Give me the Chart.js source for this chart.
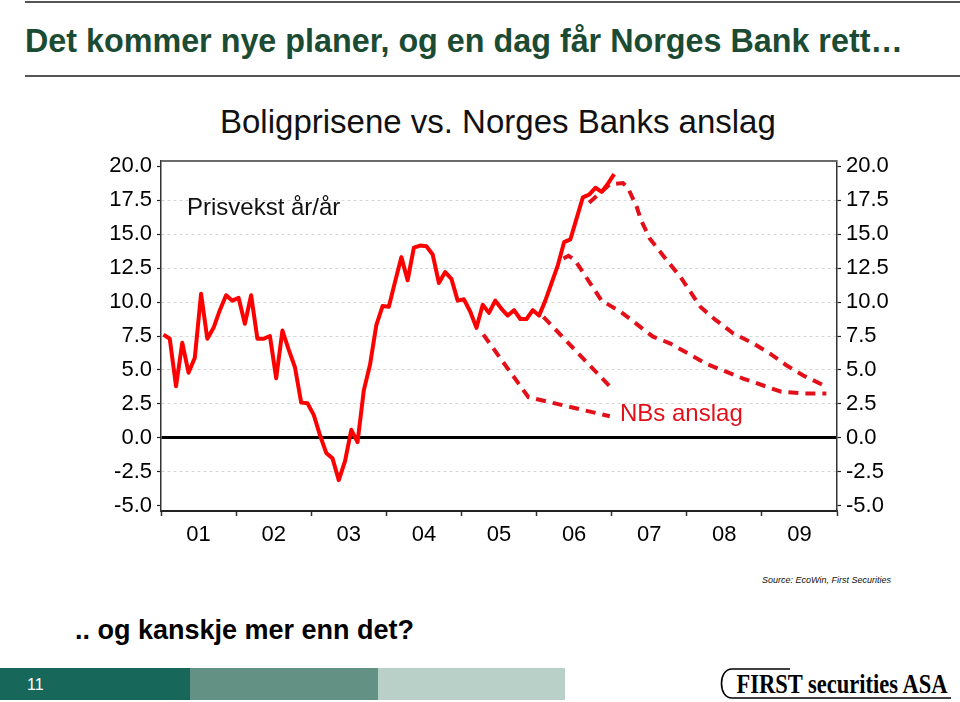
<!DOCTYPE html>
<html>
<head>
<meta charset="utf-8">
<script src="https://cdn.jsdelivr.net/npm/chart.js@4.4.1/dist/chart.umd.min.js"></script>
<style>
  body { margin: 0; width: 960px; height: 702px; position: relative; background: #fff; overflow: hidden;
         font-family: "Liberation Sans", Arial, sans-serif; }
  .abs { position: absolute; white-space: nowrap; line-height: 1; }
  .rule { position: absolute; left: 25px; right: 0; height: 2px; background: #555; }
  #headline { left: 25px; top: 23px; font-size: 34px; font-weight: bold; color: #1b4b33;
              transform: scaleX(0.95); transform-origin: left top; }
  #chartTitle { left: 220px; top: 105px; font-size: 33px; color: #111; }
  #note { left: 187px; top: 195px; font-size: 24px; color: #111; }
  #nbLabel { left: 620px; top: 401px; font-size: 24px; color: #e3101a; }
  #source { left: 762px; top: 576px; font-size: 9px; font-style: italic; color: #111; }
  #teaser { left: 75px; top: 617px; font-size: 27px; font-weight: bold; color: #000; }
  #prisChart { position: absolute; left: 0; top: 100px; }
  .bar { position: absolute; top: 668px; height: 32px; }
  #pageNo { left: 27px; top: 677px; font-size: 16px; color: #fff; }
  #logo { position: absolute; left: 700px; top: 660px; }
</style>
</head>
<body>
<div class="rule" style="top:1px"></div>
<div class="rule" style="top:75px"></div>
<div class="abs" id="headline">Det kommer nye planer, og en dag får Norges Bank rett…</div>
<div class="abs" id="chartTitle">Boligprisene vs. Norges Banks anslag</div>
<canvas id="prisChart" width="960" height="470"></canvas>
<div class="abs" id="note">Prisvekst år/år</div>
<div class="abs" id="nbLabel">NBs anslag</div>
<div class="abs" id="source">Source: EcoWin, First Securities</div>
<div class="abs" id="teaser">.. og kanskje mer enn det?</div>
<div class="bar" style="left:0;width:190px;background:#17675a"></div>
<div class="bar" style="left:190px;width:188px;background:#639184"></div>
<div class="bar" style="left:378px;width:187px;background:#b9d0c8"></div>
<div class="abs" id="pageNo">11</div>
<svg id="logo" width="260" height="42" viewBox="0 0 260 42">
  <path d="M90,9 L32,9 C25,9 21.5,16 21.5,23.5 C21.5,31 25,38 32,38 L251,38" fill="none" stroke="#000" stroke-width="1.6"/>
  <text x="36.5" y="33" font-family="'Liberation Serif', 'Times New Roman', serif" font-weight="bold"
        font-size="27" textLength="211" lengthAdjust="spacingAndGlyphs">FIRST securities ASA</text>
</svg>

<script>
const yearLabels = ['01', '02', '03', '04', '05', '06', '07', '08', '09'];
const yTicks = [-5, -2.5, 0, 2.5, 5, 7.5, 10, 12.5, 15, 17.5, 20];

// prisvekst år/år, en verdi per måned fra jan 2001
const prisvekst = [
  7.6, 7.3, 3.8, 7.0, 4.8, 5.9, 10.6, 7.3, 8.1, 9.4, 10.5, 10.1,
  10.3, 8.4, 10.5, 7.3, 7.3, 7.5, 4.4, 7.9, 6.5, 5.2, 2.6, 2.55,
  1.7, 0.2, -1.1, -1.5, -3.1, -1.7, 0.6, -0.3, 3.5, 5.4, 8.3, 9.7,
  9.65, 11.5, 13.3, 11.6, 14.0, 14.15, 14.1, 13.5, 11.4, 12.2, 11.7, 10.1,
  10.2, 9.3, 8.1, 9.8, 9.2, 10.1, 9.5, 9.0, 9.4, 8.75, 8.75, 9.4,
  9.0, 10.1, 11.4, 12.7, 14.4, 14.6, 16.15, 17.7, 17.9, 18.4, 18.1, 18.7,
  19.4
];

// NBs anslag: måned (0 = jan 2001) og prosent
const anslag1Mnd = [51.1, 58.3, 71.3];
const anslag1Pst = [7.6, 3.0, 1.6];

const anslag2Mnd = [60.7, 71.3];
const anslag2Pst = [8.9, 3.8];

const anslag3Mnd = [63.9, 64.7, 65.7, 70.0, 73.0, 78.2, 80.9, 86.8, 92.6, 98.7, 102.2, 105.9];
const anslag3Pst = [13.2, 13.4, 13.1, 10.1, 9.3, 7.45, 6.96, 5.44, 4.37, 3.4, 3.28, 3.28];

const anslag4Mnd = [68.0, 71.3, 73.4, 74.2, 75.6, 76.3, 77.7, 80.4, 82.6, 85.8, 88.2, 91.0, 94.2, 96.9, 99.5, 102.2, 105.9];
const anslag4Pst = [17.3, 18.65, 18.75, 18.4, 17.0, 16.0, 14.66, 13.07, 11.84, 9.63, 8.68, 7.7, 6.96, 6.2, 5.35, 4.6, 3.77];

const FONT = '"Liberation Sans", Arial, sans-serif';
const RED = '#ff0000';
const DASHRED = '#e3101a';

function pairs(months, values) {
  return months.map((m, k) => ({ x: m, y: values[k] }));
}

function anslag(months, values) {
  return {
    data: pairs(months, values),
    borderColor: DASHRED,
    borderWidth: 4,
    borderDash: [10, 7],
    pointRadius: 0,
    tension: 0,
    xAxisID: 'x',
    yAxisID: 'y'
  };
}

// grå ramme over plottet
const rammeTopp = {
  id: 'rammeTopp',
  afterDraw(chart) {
    const { ctx, chartArea } = chart;
    ctx.save();
    ctx.strokeStyle = '#6a6a6a';
    ctx.lineWidth = 2;
    ctx.beginPath();
    ctx.moveTo(chartArea.left, chartArea.top);
    ctx.lineTo(chartArea.right, chartArea.top);
    ctx.stroke();
    ctx.restore();
  }
};

function gridColor(ctx) {
  if (!ctx.tick) return 'rgba(0,0,0,0)';
  if (ctx.tick.value === 0) return '#000';
  if (ctx.tick.value === 20 || ctx.tick.value === -5) return 'rgba(0,0,0,0)';
  return '#d6d6d6';
}

const yScale = (pos, width, onChart) => ({
  type: 'linear',
  position: pos,
  min: -5.37,
  max: 20.37,
  afterBuildTicks: s => { s.ticks = yTicks.map(v => ({ value: v })); },
  afterFit: s => { s.width = width; },
  grid: {
    drawOnChartArea: onChart,
    color: gridColor,
    lineWidth: c => (c.tick && c.tick.value === 0 ? 3 : 1),
    tickLength: 4,
    tickColor: '#222',
    tickWidth: 1.2
  },
  border: {
    color: '#333',
    width: 1.5,
    dash: c => (c.tick && c.tick.value !== 0 ? [3, 3] : [])
  },
  ticks: {
    color: '#000',
    padding: 5,
    font: { size: 22, family: FONT },
    callback: v => v.toFixed(1)
  }
});

new Chart(document.getElementById('prisChart'), {
  type: 'line',
  data: {
    datasets: [
      {
        data: prisvekst.map((v, i) => ({ x: i, y: v })),
        borderColor: RED,
        borderWidth: 4,
        pointRadius: 0,
        tension: 0,
        borderJoinStyle: 'round',
        xAxisID: 'x',
        yAxisID: 'y'
      },
      anslag(anslag1Mnd, anslag1Pst),
      anslag(anslag2Mnd, anslag2Pst),
      anslag(anslag3Mnd, anslag3Pst),
      anslag(anslag4Mnd, anslag4Pst)
    ]
  },
  options: {
    responsive: false,
    animation: false,
    layout: { padding: { top: 61 } },
    plugins: {
      legend: { display: false },
      tooltip: { enabled: false }
    },
    scales: {
      x: { type: 'linear', display: false, min: -0.4, max: 107.6 },
      aar: {
        type: 'category',
        labels: yearLabels,
        position: 'bottom',
        offset: true,
        afterFit: s => { s.height = 59; },
        grid: { offset: true, drawOnChartArea: false, tickLength: 5, tickColor: '#333', tickWidth: 1.5 },
        border: { color: '#222', width: 2 },
        ticks: { color: '#000', padding: 6, autoSkip: false, maxRotation: 0, font: { size: 22, family: FONT } }
      },
      y: yScale('left', 161, true),
      y2: yScale('right', 123, false)
    }
  },
  plugins: [rammeTopp]
});
</script>
</body>
</html>
